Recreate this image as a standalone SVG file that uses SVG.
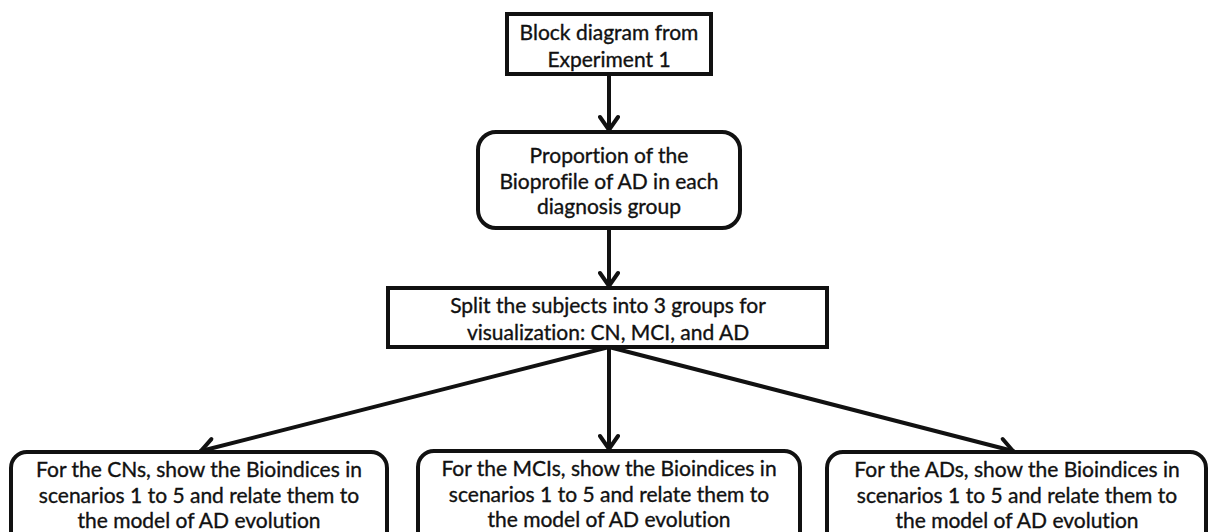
<svg xmlns="http://www.w3.org/2000/svg" width="1209" height="532" viewBox="0 0 1209 532">
<style>
.box{fill:#fff;stroke:#111;stroke-width:4}
.t{font-family:Lato,"Open Sans","Liberation Sans",sans-serif;font-size:21px;fill:#111;stroke:#111;stroke-width:0.35;text-anchor:middle;font-variant-ligatures:none}
.c{stroke:#111;stroke-width:4;fill:none;stroke-linecap:round}
</style>
<defs>
<marker id="arr" viewBox="0 0 22 22" refX="19" refY="11" markerWidth="22" markerHeight="22" markerUnits="userSpaceOnUse" orient="auto">
<path d="M6,2 L19,11 L6,20" fill="none" stroke="#111" stroke-width="4" stroke-linejoin="miter" stroke-linecap="round"/>
</marker>
</defs>
<rect width="1209" height="532" fill="#fff"/>
<g id="connectors">
<line class="c" x1="609" y1="74" x2="609" y2="130" marker-end="url(#arr)"/>
<line class="c" x1="609" y1="228" x2="609" y2="286" marker-end="url(#arr)"/>
<line class="c" x1="609" y1="347" x2="609" y2="449" marker-end="url(#arr)"/>
<line class="c" x1="609" y1="347" x2="201" y2="451" marker-end="url(#arr)"/>
<line class="c" x1="609" y1="347" x2="1013" y2="451" marker-end="url(#arr)"/>
</g>
<g id="n1">
<rect class="box" x="507" y="14" width="204" height="60"/>
<text class="t" x="609" y="40">Block diagram from</text>
<text class="t" x="609" y="67">Experiment 1</text>
</g>
<g id="n2">
<rect class="box" x="478" y="132" width="262" height="96" rx="18"/>
<text class="t" x="609" y="163">Proportion of the</text>
<text class="t" x="609" y="189">Bioprofile of AD in each</text>
<text class="t" x="609" y="214">diagnosis group</text>
</g>
<g id="n3">
<rect class="box" x="388" y="288" width="439" height="59"/>
<text class="t" x="608" y="313">Split the subjects into 3 groups for</text>
<text class="t" x="608" y="340">visualization: CN, MCI, and AD</text>
</g>
<g id="n4">
<rect class="box" x="11" y="452" width="376" height="100" rx="16"/>
<text class="t" x="199" y="477">For the CNs, show the Bioindices in</text>
<text class="t" x="199" y="503">scenarios 1 to 5 and relate them to</text>
<text class="t" x="199" y="528">the model of AD evolution</text>
</g>
<g id="n5">
<rect class="box" x="418" y="451" width="382" height="100" rx="16"/>
<text class="t" x="609" y="476">For the MCIs, show the Bioindices in</text>
<text class="t" x="609" y="502">scenarios 1 to 5 and relate them to</text>
<text class="t" x="609" y="527">the model of AD evolution</text>
</g>
<g id="n6">
<rect class="box" x="827" y="452" width="379" height="100" rx="16"/>
<text class="t" x="1017" y="477">For the ADs, show the Bioindices in</text>
<text class="t" x="1017" y="503">scenarios 1 to 5 and relate them to</text>
<text class="t" x="1017" y="528">the model of AD evolution</text>
</g>
</svg>
